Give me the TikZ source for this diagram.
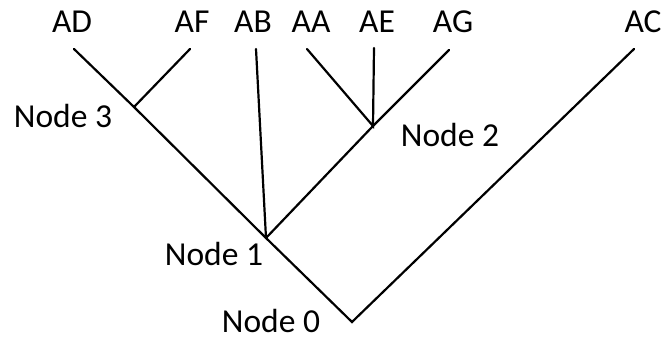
\documentclass[tikz,border=0pt]{standalone}
\usepackage{fontspec}
\setmainfont{Carlito}
\begin{document}
\begin{tikzpicture}[x=1pt,y=-1pt,
  lbl/.style={inner sep=0pt,anchor=base,font=\fontsize{33.5}{34}\selectfont},
  edge/.style={line width=2.2pt,line cap=round}]
\useasboundingbox (0,0) rectangle (665,339);
% leaf tips
\coordinate (tAD) at (74,49);
\coordinate (tAF) at (190,49);
\coordinate (tAB) at (256,49);
\coordinate (tAA) at (307,49);
\coordinate (tAE) at (374,48);
\coordinate (tAG) at (449,50);
\coordinate (tAC) at (634,49);
% internal nodes
\coordinate (n3) at (134,107);
\coordinate (n2) at (373,126);
\coordinate (n1) at (266,238);
\coordinate (n0) at (352,322);
% labels
\node[lbl] (lAD) at (72,33) {AD};
\node[lbl] (lAF) at (192,33) {AF};
\node[lbl] (lAB) at (253,33) {AB};
\node[lbl] (lAA) at (311,33) {AA};
\node[lbl] (lAE) at (377,33) {AE};
\node[lbl] (lAG) at (453,33) {AG};
\node[lbl] (lAC) at (643,33) {AC};
\node[lbl] (l3) at (63,128) {Node 3};
\node[lbl] (l2) at (450,147) {Node 2};
\node[lbl] (l1) at (214,266) {Node 1};
\node[lbl] (l0) at (271,333) {Node 0};
% edges
\draw[edge] (tAD) -- (n3) -- (n1) -- (n0) -- (tAC);
\draw[edge] (tAF) -- (n3);
\draw[edge] (tAB) -- (n1);
\draw[edge] (n1) -- (n2) -- (tAG);
\draw[edge] (tAA) -- (n2) -- (tAE);
\end{tikzpicture}
\end{document}
